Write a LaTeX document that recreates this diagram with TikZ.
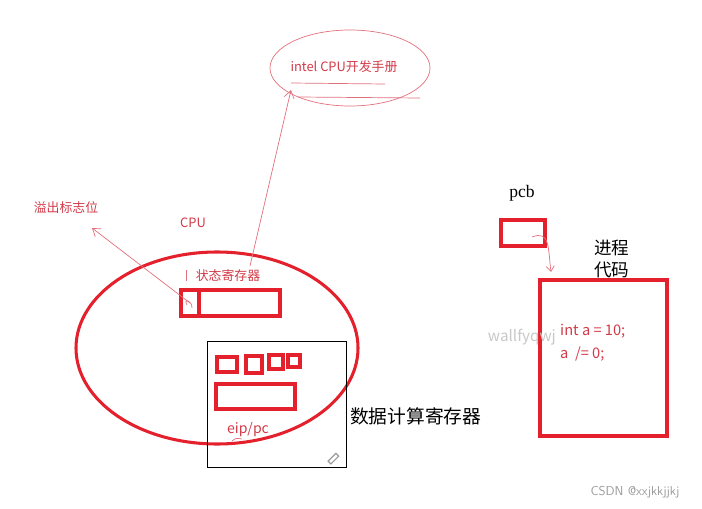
\documentclass[tikz,border=0pt]{standalone}
\usepackage{fontspec}
\usepackage{xcolor}
\usepackage{tikz}
\usetikzlibrary{arrows.meta}
\setmainfont{Liberation Serif}
\newfontfamily\cjk{Noto Sans CJK SC}
\definecolor{rojo}{HTML}{E3202B}
\definecolor{rojoTexto}{HTML}{D23A48}
\definecolor{rojoTrazo}{HTML}{E2707C}
\definecolor{grisMarca}{HTML}{C8C8C8}
\definecolor{grisPie}{HTML}{9A9A9A}

\begin{document}
\begin{tikzpicture}[
    x=0.03cm, y=-0.03cm,
    caja/.style={draw=rojo, line width=2.6pt, inner sep=0pt, outer sep=0pt},
    nota/.style={font=\cjk\fontsize{11}{13}\selectfont, text=rojoTexto, inner sep=0pt},
    negro/.style={font=\cjk\fontsize{16}{18}\selectfont, text=black, inner sep=0pt},
    trazo/.style={draw=rojoTrazo, line width=0.6pt},
    flecha/.style={trazo, -{Straight Barb[length=2.2mm, width=3mm]}},
]
\useasboundingbox (0,0) rectangle (702,509);

% manual de intel
\draw[trazo] (350,68) ellipse [x radius=80, y radius=38];
\node[nota] (manual) at (344,67) {intel CPU开发手册};
\draw[trazo] (291,83) -- (385,84);
\draw[trazo] (298,97) -- (420,98);

% cpu
\draw[draw=rojo, line width=2.6pt] (217,348) ellipse [x radius=141, y radius=96];
\node[nota] (cpu) at (193,223) {CPU};
\node[nota] (overflow) at (66,208) {溢出标志位};
\node[nota] (estado) at (228,276) {状态寄存器};
\draw[trazo] (186,270) -- (186,281);
\node[caja, minimum width=18*0.03cm, minimum height=26*0.03cm] (bandera) at (190,303) {};
\node[caja, anchor=west, minimum width=81*0.03cm, minimum height=26*0.03cm] (regEstado) at (bandera.east) {};
\draw[trazo] (187,305) .. controls (183,298) and (192,300) .. (192,308);
\draw[flecha] (bandera.center) -- (92,228);
\coordinate (subida) at (291,90);
\draw[flecha] (250,266) -- (subida);

% registros de datos
\node[draw=black, line width=0.6pt, minimum width=139*0.03cm, minimum height=126*0.03cm, inner sep=0pt] (datos) at (276.5,404) {};
\draw[caja] (217,357) rectangle (237,372);
\draw[caja] (246,356) rectangle (262,373);
\draw[caja] (269,355) rectangle (283,369);
\draw[caja] (288,355) rectangle (300,367);
\draw[caja] (216,384) rectangle (295,409);
\node[nota, font=\cjk\fontsize{12}{14}\selectfont] (eip) at (248,430) {eip/pc};
\draw[trazo] (232,441) .. controls (236,438) .. (242,439);
\draw[grisPie, line width=1pt, rotate around={45:(333,459)}] (328,457) rectangle (339,461);
\node[negro, anchor=west] (calculo) at (350,416) {数据计算寄存器};

% pcb
\node[font=\fontsize{15}{17}\selectfont, inner sep=0pt] (pcb) at (522,193) {pcb};
\node[caja, minimum width=44*0.03cm, minimum height=26*0.03cm] (cajaPcb) at (523,233) {};
\draw[trazo, -{Straight Barb[length=1.6mm, width=2.4mm]}] (532,237) .. controls (550,230) and (548,248) .. (551,272);
\node[negro, anchor=west, font=\cjk\fontsize{15}{17}\selectfont] (proceso) at (594,248) {进程};
\node[negro, anchor=west, font=\cjk\fontsize{15}{17}\selectfont] (codigo) at (594,270) {代码};
\node[caja, minimum width=127*0.03cm, minimum height=156*0.03cm] (cajaCodigo) at (603.5,358) {};
\node[font=\cjk\fontsize{13}{15}\selectfont, text=grisMarca, inner sep=0pt, anchor=east] (marca) at (556,337) {wallfyqwj};
\node[nota, anchor=west, font=\cjk\fontsize{12.5}{15}\selectfont] (linea1) at (560,331) {int a = 10;};
\node[nota, anchor=west, font=\cjk\fontsize{12.5}{15}\selectfont] (linea2) at (560,354) {a \ /= 0;};

% pie
\node[font=\fontsize{11}{13}\selectfont\sffamily, text=grisPie, inner sep=0pt] (pie) at (635,492) {CSDN @xxjkkjjkj};
\end{tikzpicture}
\end{document}
